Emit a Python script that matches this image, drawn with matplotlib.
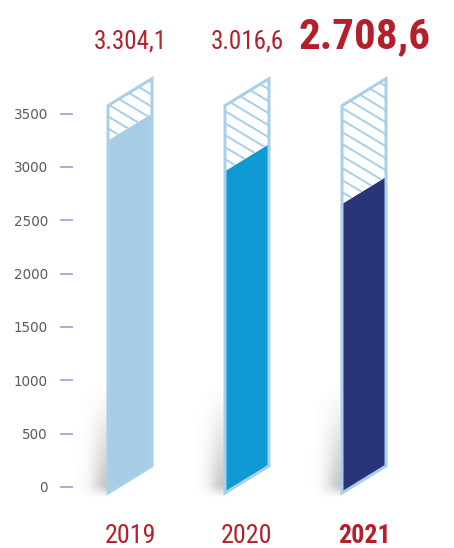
import numpy as np
import matplotlib
matplotlib.use('Agg')
import matplotlib.pyplot as plt
from matplotlib.patches import Polygon

# data
years = ['2019', '2020', '2021']
values = [3304.1, 3016.6, 2708.6]
value_labels = ['3.304,1', '3.016,6', '2.708,6']
fill_colors = ['#a6cde5', '#0f9ad3', '#2a3479']
yticks = [0, 500, 1000, 1500, 2000, 2500, 3000, 3500]

outline = '#a8d0e8'
red = '#b31f2a'
fam = ['Roboto Condensed', 'Liberation Sans', 'DejaVu Sans']

# pixel scale (dpi 72 so 1pt == 1px)
W, H = 454, 548
PX_X = 117.0            # pixels per category step
PX_Y = 373.5 / 3500.0   # pixels per unit value
Y0_PX = 487.0           # pixel row of value 0
X0_PX = 130.0           # pixel column of first bar centre
AX_LEFT = 73.0

fig = plt.figure(figsize=(W / 72, H / 72), dpi=72)
ax = fig.add_axes([AX_LEFT / W, 0, 1 - AX_LEFT / W, 1])
ax.set_xlim((AX_LEFT - X0_PX) / PX_X, (W - X0_PX) / PX_X)
ax.set_ylim(-(H - Y0_PX) / PX_Y, Y0_PX / PX_Y)
for s in ax.spines.values():
    s.set_visible(False)
ax.set_xticks([])
ax.set_yticks(yticks)
ax.tick_params(axis='y', length=13, width=1.6, color='#8fa0d0', pad=12,
               labelsize=13.5, labelcolor='#5a5a5a')

half = 22 / PX_X           # half bar width
skew = 27 / PX_Y           # right edge sits higher than left edge
base = -6 / PX_Y           # left bottom corner below zero line
total = 3630.0             # full height of the outlined shape

for i, (v, c) in enumerate(zip(values, fill_colors)):
    xl, xr = i - half, i + half

    # soft shadow to the left of the bar foot
    nx, ny = 60, 80
    gx = np.linspace(-40, 0, nx)
    gy = np.linspace(385, 498, ny)
    GX, GY = np.meshgrid(gx, gy)
    ramp = np.clip((GY - 385) / 100, 0, 1) ** 1.2 * np.clip((498 - GY) / 12, 0, 1)
    alpha = 0.45 * np.exp(-(GX / 15) ** 2) * ramp
    img = np.zeros((ny, nx, 4))
    img[..., :3] = 0.5
    img[..., 3] = alpha
    ax.imshow(img, extent=[xl - 40 / PX_X, xl, (Y0_PX - 498) / PX_Y, (Y0_PX - 385) / PX_Y],
              origin='upper', aspect='auto', zorder=1, interpolation='bilinear')

    # value part
    ax.add_patch(Polygon([(xl, base), (xr, base + skew), (xr, base + skew + v), (xl, base + v)],
                         closed=True, facecolor=c, edgecolor='none', zorder=2))
    # hatched remainder
    hatch = Polygon([(xl, base + v), (xr, base + skew + v), (xr, base + skew + total), (xl, base + total)],
                    closed=True, facecolor='white', edgecolor='none', zorder=2)
    ax.add_patch(hatch)
    slope = -0.6 * PX_X / PX_Y
    step = 12 / PX_Y
    xs = np.array([xl - 0.1, xr + 0.1])
    for k in np.arange(base + v - 3 * step, base + total + 6 * step, step):
        ln, = ax.plot(xs, k + slope * (xs - xl), color=outline, lw=2, zorder=3,
                      solid_capstyle='butt')
        ln.set_clip_path(hatch)
    # outline of the whole shape
    ax.add_patch(Polygon([(xl, base), (xr, base + skew), (xr, base + skew + total), (xl, base + total)],
                         closed=True, facecolor='none', edgecolor=outline, lw=3, zorder=4,
                         joinstyle='miter'))

    bold = i == len(values) - 1
    ax.text(i, (Y0_PX - (48 if bold else 49)) / PX_Y, value_labels[i], ha='center', va='baseline',
            color=red, fontsize=43 if bold else 25, fontweight='bold' if bold else 'normal', family=fam)
    ax.text(i, (Y0_PX - 543) / PX_Y, years[i], ha='center', va='baseline',
            color=red, fontsize=26, fontweight='bold' if bold else 'normal', family=fam)

fig.savefig('out.png', dpi=72)
